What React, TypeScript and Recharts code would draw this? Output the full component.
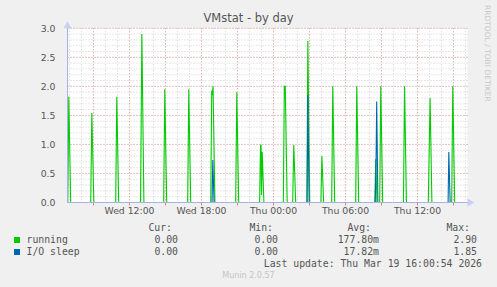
import React from "react";
import {
  ComposedChart,
  Line,
  XAxis,
  YAxis,
  CartesianGrid,
  ReferenceDot,
} from "recharts";

// Time is in hours counted from Wed 00:00
const xDomain: [number, number] = [6.833, 40.167];
const yDomain: [number, number] = [0, 3];

const xTicks = [9, 12, 15, 18, 21, 24, 27, 30, 33, 36, 39];
const xTickLabels: Record<number, string> = {
  12: "Wed 12:00",
  18: "Wed 18:00",
  24: "Thu 00:00",
  30: "Thu 06:00",
  36: "Thu 12:00",
};
const yTicks = [0, 0.5, 1, 1.5, 2, 2.5, 3];

const runningTimes = [
  6.86, 6.94, 7.1, 7.1,
  8.77, 8.86, 9.03, 9.03,
  10.85, 10.94, 11.1, 11.1,
  12.92, 13.03, 13.2, 13.2,
  14.85, 14.94, 15.1, 15.1,
  16.85, 16.94, 17.1, 17.1,
  18.77, 18.85, 18.9, 18.96, 19.12, 19.12,
  20.85, 20.94, 21.1, 21.1,
  22.84, 22.92, 22.96, 23.0, 23.06, 23.2, 23.2,
  24.82, 24.9, 24.98, 25.14, 25.14,
  25.6, 25.69, 25.85, 25.85,
  26.78, 26.86, 27.02, 27.02,
  27.95, 28.03, 28.18, 28.18,
  28.85, 28.94, 29.1, 29.1,
  30.85, 30.94, 31.1, 31.1,
  32.44, 32.52, 32.62, 32.62,
  32.85, 32.94, 33.1, 33.1,
  34.83, 34.92, 35.08, 35.08,
  36.9, 36.98, 37.05, 37.2, 37.2,
  38.85, 38.94, 39.1,
];
const runningValues: (number | null)[] = [
  0, 1.82, 0, null,
  0, 1.54, 0, null,
  0, 1.82, 0, null,
  0, 2.9, 0, null,
  0, 1.95, 0, null,
  0, 1.95, 0, null,
  0, 1.93, 1.85, 2.0, 0, null,
  0, 1.9, 0, null,
  0, 0.98, 1.0, 0.13, 0.87, 0, null,
  0, 2.0, 2.0, 0, null,
  0, 0.99, 0, null,
  0, 2.78, 0, null,
  0, 0.8, 0, null,
  0, 2.0, 0, null,
  0, 2.0, 0, null,
  0, 0.75, 0, null,
  0, 2.0, 0, null,
  0, 2.0, 0, null,
  0, 0.98, 1.8, 0, null,
  0, 2.0, 0,
];

const ioTimes = [
  18.88, 18.94, 19.05, 19.05,
  26.8, 26.86, 26.97, 26.97,
  32.48, 32.55, 32.6, 32.7, 32.7,
  38.55, 38.61, 38.72,
];
const ioValues: (number | null)[] = [
  0, 0.73, 0, null,
  0, 1.85, 0, null,
  0, 0.76, 1.74, 0, null,
  0, 0.87, 0,
];

const minorX = Array.from({ length: 34 }, (_, i) => 7 + i);
const majorX = xTicks;
const minorY = Array.from({ length: 31 }, (_, i) => i / 10);
const majorY = yTicks;

const runningData = runningTimes.map((t, i) => ({ t, v: runningValues[i] }));
const ioData = ioTimes.map((t, i) => ({ t, v: ioValues[i] }));

const legendRows = [
  { name: "running", color: "#00cc00", cur: "0.00", min: "0.00", avg: "177.80m", max: "2.90" },
  { name: "I/O sleep", color: "#0066b3", cur: "0.00", min: "0.00", avg: "17.82m", max: "1.85" },
];

const AXIS = "#a3b3e6";
const SANS = "'DejaVu Sans', Verdana, sans-serif";
const MONO = "'DejaVu Sans Mono', monospace";

const ArrowRight = (props: any) => {
  const { cx, cy } = props;
  if (cx == null || cy == null) return null;
  return <path d={`M${cx} ${cy - 4} L${cx + 7} ${cy} L${cx} ${cy + 4} Z`} fill="#c6d0f5" />;
};
const ArrowUp = (props: any) => {
  const { cx, cy } = props;
  if (cx == null || cy == null) return null;
  return <path d={`M${cx - 4} ${cy} L${cx} ${cy - 7} L${cx + 4} ${cy} Z`} fill="#c6d0f5" />;
};

const textColor = "#555555";

export default function App() {
  return (
    <div
      style={{
        position: "absolute",
        left: 0,
        top: 0,
        width: 497,
        height: 287,
        background: "#f0f0f0",
        overflow: "hidden",
        fontFamily: SANS,
      }}
    >
      <div
        style={{
          position: "absolute",
          left: 0,
          width: 497,
          top: 11,
          textAlign: "center",
          fontSize: 11.5,
          color: textColor,
          lineHeight: "14px",
        }}
      >
        VMstat - by day
      </div>
      <div
        style={{
          position: "absolute",
          left: 482,
          top: 5,
          transformOrigin: "0 0",
          transform: "rotate(90deg) translate(0px, -10px)",
          fontSize: 7.5,
          color: "#c8c8c8",
          whiteSpace: "nowrap",
          lineHeight: "10px",
        }}
      >
        RRDTOOL / TOBI OETIKER
      </div>

      <div style={{ position: "absolute", left: 0, top: 0 }}>
        <ComposedChart
          width={497}
          height={287}
          margin={{ top: 28.3, right: 29.5, bottom: 54.5, left: 27.5 }}
        >
          <CartesianGrid
            horizontalValues={minorY}
            verticalValues={minorX}
            stroke="#cfcfcf"
            strokeDasharray="1 2"
            fill="#ffffff"
          />
          <CartesianGrid
            horizontalValues={majorY}
            verticalValues={majorX}
            stroke="#eaa0a0"
            strokeDasharray="1 2"
          />
          <XAxis
            type="number"
            dataKey="t"
            domain={xDomain}
            ticks={xTicks}
            tickFormatter={(v: number) => xTickLabels[v] ?? ""}
            allowDataOverflow
            height={30}
            axisLine={{ stroke: AXIS }}
            tickLine={{ stroke: "#e08080" }}
            tickSize={3}
            tickMargin={2}
            tick={{ fill: textColor, fontSize: 9.3, fontFamily: SANS }}
            interval={0}
          />
          <YAxis
            type="number"
            domain={yDomain}
            ticks={yTicks}
            tickFormatter={(v: number) => v.toFixed(1)}
            allowDataOverflow
            width={40}
            axisLine={{ stroke: AXIS }}
            tickLine={false}
            tickMargin={6}
            tick={{ fill: textColor, fontSize: 9.3, fontFamily: SANS }}
            interval={0}
          />
          <Line
            data={runningData}
            dataKey="v"
            type="linear"
            stroke="#00cc00"
            strokeWidth={1.1}
            dot={false}
            activeDot={false}
            connectNulls={false}
            isAnimationActive={false}
          />
          <Line
            data={ioData}
            dataKey="v"
            type="linear"
            stroke="#0066b3"
            strokeWidth={1.1}
            dot={false}
            activeDot={false}
            connectNulls={false}
            isAnimationActive={false}
          />
          <ReferenceDot x={xDomain[1]} y={0} ifOverflow="visible" shape={ArrowRight} />
          <ReferenceDot x={xDomain[0]} y={3} ifOverflow="visible" shape={ArrowUp} />
        </ComposedChart>
      </div>

      {/* Legend / statistics */}
      <div style={{ fontFamily: MONO, fontSize: 9.8, color: textColor }}>
        {[
          { label: "Cur:", right: 172 },
          { label: "Min:", right: 273 },
          { label: "Avg:", right: 371 },
          { label: "Max:", right: 470 },
        ].map((h) => (
          <div
            key={h.label}
            style={{ position: "absolute", right: 497 - h.right, top: 222, lineHeight: "12px", whiteSpace: "pre" }}
          >
            {h.label}
          </div>
        ))}
        {legendRows.map((r, i) => {
          const top = 233.5 + i * 12;
          return (
            <React.Fragment key={r.name}>
              <div
                style={{
                  position: "absolute",
                  left: 14,
                  top: top + 3,
                  width: 6,
                  height: 6,
                  background: r.color,
                }}
              />
              <div style={{ position: "absolute", left: 26.5, top, lineHeight: "12px", whiteSpace: "pre" }}>
                {r.name}
              </div>
              {[
                { v: r.cur, right: 178 },
                { v: r.min, right: 278 },
                { v: r.avg, right: 379 },
                { v: r.max, right: 477 },
              ].map((c, j) => (
                <div
                  key={j}
                  style={{ position: "absolute", right: 497 - c.right, top, lineHeight: "12px", whiteSpace: "pre" }}
                >
                  {c.v}
                </div>
              ))}
            </React.Fragment>
          );
        })}
        <div
          style={{ position: "absolute", right: 497 - 482, top: 257.7, lineHeight: "12px", whiteSpace: "pre" }}
        >
          Last update: Thu Mar 19 16:00:54 2026
        </div>
      </div>
      <div
        style={{
          position: "absolute",
          left: 0,
          width: 497,
          top: 270.5,
          textAlign: "center",
          fontSize: 8,
          color: "#c4c4c4",
          lineHeight: "10px",
        }}
      >
        Munin 2.0.57
      </div>
    </div>
  );
}
